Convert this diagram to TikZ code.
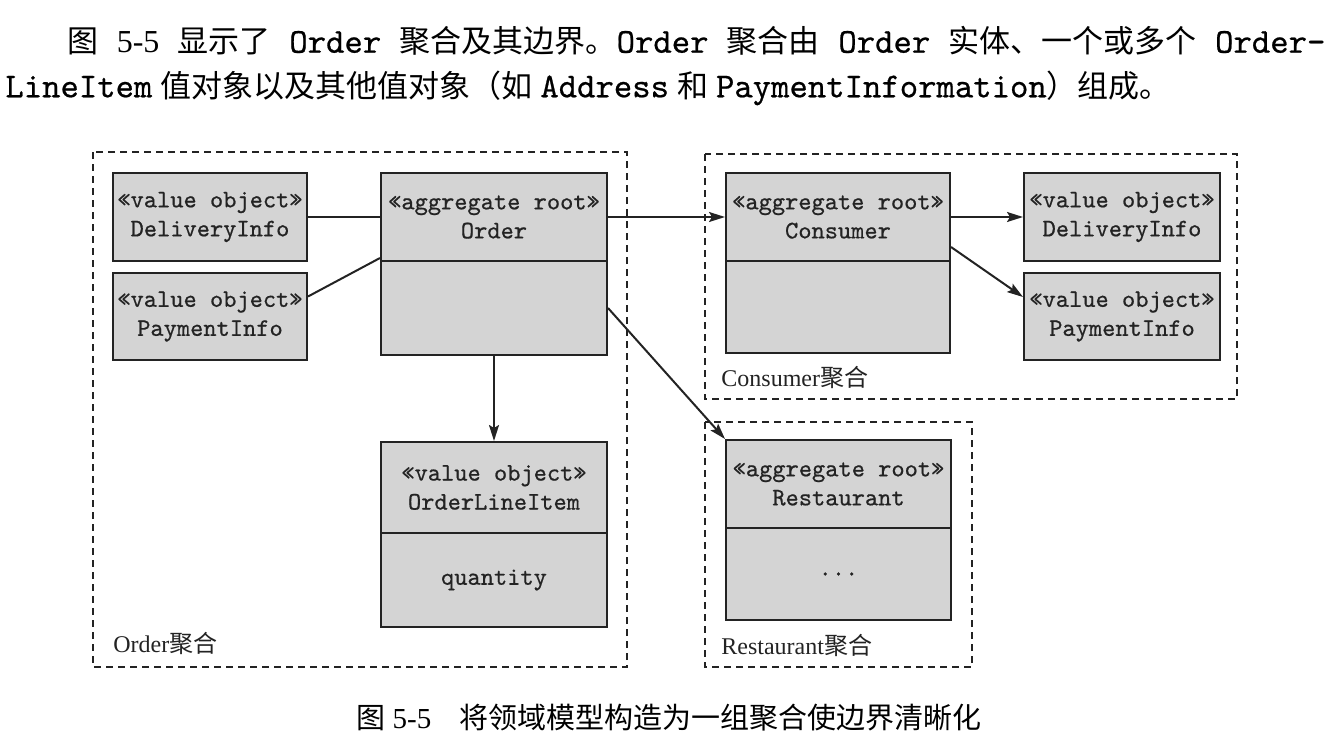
\documentclass[tikz,border=0pt]{standalone}
\usepackage{fontspec}
\setmainfont{Liberation Serif}
\newfontfamily\mono{lmmono10-regular.otf}[FakeBold=0.6]
\newfontfamily\cjk{Noto Sans CJK SC}
\usetikzlibrary{arrows.meta}
\definecolor{boxfill}{RGB}{212,212,212}
\definecolor{linec}{RGB}{35,35,35}
\newcommand{\tm}[1]{{\mono\fontsize{17.5pt}{19pt}\selectfont #1}}
\newcommand{\tc}[1]{{\cjk\fontsize{15.5pt}{19pt}\selectfont #1}}
\begin{document}
\begin{tikzpicture}[x=0.5pt,y=-0.5pt,
  box/.style={draw=linec, fill=boxfill, line width=1pt, inner sep=0pt, align=center,
    font={\mono\fontsize{12.6pt}{14.5pt}\selectfont}, text=linec},
  aggline/.style={draw=linec, line width=0.8pt, dash pattern=on 3.5pt off 2.5pt},
  conn/.style={draw=linec, line width=1pt},
  arr/.style={conn, -{Stealth[length=8pt,width=5pt,inset=1.5pt]}},
  agglabel/.style={anchor=west, inner sep=0pt, font=\fontsize{12pt}{14pt}\selectfont, text=linec}]
\useasboundingbox (0,0) rectangle (1342,744);
% top text
\node[anchor=west, inner sep=0pt, font=\fontsize{16pt}{19pt}\selectfont] (l1) at (67,41)
  {\makebox[629pt][s]{\tc{图} 5-5 \tc{显示了} \tm{Order} \tc{聚合及其边界。}\tm{Order} \tc{聚合由} \tm{Order} \tc{实体、一个或多个} \tm{Order-}}};
\node[anchor=west, inner sep=0pt, font=\fontsize{16pt}{19pt}\selectfont] (l2) at (5,88)
  {\tm{LineItem} \tc{值对象以及其他值对象（如} \tm{Address} \tc{和} \tm{PaymentInformation}\tc{）组成。}};
% aggregate boundaries
\draw[aggline] (93,152) rectangle (627,667);
\draw[aggline] (705,154) rectangle (1237,399);
\draw[aggline] (705,422) rectangle (972,667);
% Order aggregate
\node[box, minimum width=97pt, minimum height=44pt] (delivL) at (210,217) {«value object»\\DeliveryInfo};
\node[box, minimum width=97pt, minimum height=43.5pt] (payL) at (210,316.5) {«value object»\\PaymentInfo};
\node[box, minimum width=113pt, minimum height=44pt] (orderh) at (494,217) {«aggregate root»\\Order};
\node[box, minimum width=113pt, minimum height=47pt] (orderb) at (494,308) {};
\node[box, minimum width=113pt, minimum height=45.5pt] (olih) at (494,487.5) {«value object»\\OrderLineItem};
\node[box, minimum width=113pt, minimum height=47pt] (olib) at (494,580) {quantity};
\node[agglabel] (orderlbl) at (113,643) {Order{\cjk 聚合}};
% Consumer aggregate
\node[box, minimum width=112pt, minimum height=44pt] (consh) at (838,217) {«aggregate root»\\Consumer};
\node[box, minimum width=112pt, minimum height=46pt] (consb) at (838,307) {};
\node[box, minimum width=98pt, minimum height=44pt] (delivR) at (1122,217) {«value object»\\DeliveryInfo};
\node[box, minimum width=98pt, minimum height=43.5pt] (payR) at (1122,316.5) {«value object»\\PaymentInfo};
\node[agglabel] (conslbl) at (721,377) {Consumer{\cjk 聚合}};
% Restaurant aggregate
\node[box, minimum width=112.5pt, minimum height=44pt] (resth) at (838.5,484) {«aggregate root»\\Restaurant};
\node[box, minimum width=112.5pt, minimum height=46pt] (restb) at (838.5,574) {...};
\node[agglabel] (restlbl) at (721,645) {Restaurant{\cjk 聚合}};
% connectors
\draw[conn] (delivL.east) -- (orderh.west);
\draw[conn] ([yshift=10pt]payL.east) -- ([yshift=2pt]orderh.south west);
\draw[arr] (orderh.east) -- (consh.west);
\draw[arr] (orderb.east) -- (resth.north west);
\draw[arr] (orderb.south) -- (olih.north);
\draw[arr] (consh.east) -- (delivR.west);
\draw[arr] ([yshift=-15pt]consh.east) -- ([yshift=9.75pt]payR.west);
% caption
\node[anchor=west, inner sep=0pt, font=\fontsize{14.5pt}{17pt}\selectfont] (cap) at (356,718)
  {{\cjk 图} 5-5\hspace{14pt}{\cjk 将领域模型构造为一组聚合使边界清晰化}};
\end{tikzpicture}
\end{document}
